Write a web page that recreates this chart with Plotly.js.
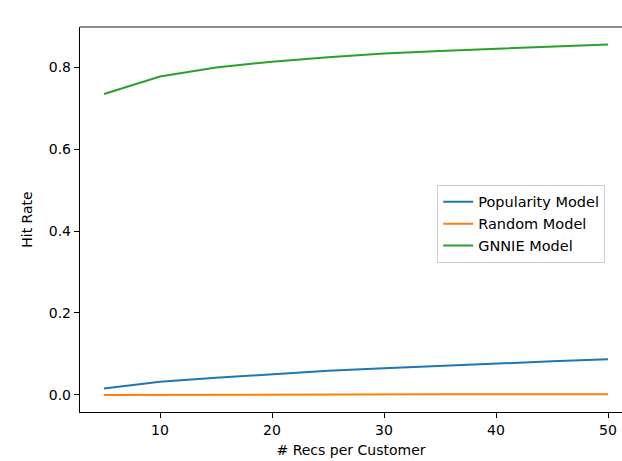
<!DOCTYPE html>
<html>
<head>
<meta charset="utf-8">
<script src="https://cdn.plot.ly/plotly-3.0.1.min.js"></script>
<style>html,body{margin:0;padding:0;background:#fff;}#chart{width:622px;height:461px;}</style>
</head>
<body>
<div id="chart"></div>
<script>
const recs = [5, 10, 15, 20, 25, 30, 35, 40, 45, 50];
const popularity = [0.016, 0.032, 0.042, 0.051, 0.059, 0.065, 0.071, 0.077, 0.082, 0.087];
const randomModel = [0.000, 0.0005, 0.001, 0.001, 0.0012, 0.0015, 0.0015, 0.0017, 0.0018, 0.002];
const gnnie = [0.734, 0.777, 0.799, 0.813, 0.824, 0.833, 0.839, 0.844, 0.850, 0.855];
const seriesNames = ["Popularity Model", "Random Model", "GNNIE Model"];
const colors = ["#1f77b4", "#ff7f0e", "#2ca02c"];
const xTicks = [10, 20, 30, 40, 50];
const yTicks = [0.0, 0.2, 0.4, 0.6, 0.8];

const font = {family: "DejaVu Sans", size: 14, color: "#000"};
const traces = [popularity, randomModel, gnnie].map((ys, i) => ({
  x: recs, y: ys, name: seriesNames[i], type: "scatter", mode: "lines",
  line: {color: colors[i], width: 2}
}));

const layout = {
  width: 622, height: 461,
  margin: {l: 80, r: 0, t: 27, b: 49},
  paper_bgcolor: "#fff", plot_bgcolor: "#fff",
  font: font,
  showlegend: true,
  xaxis: {
    range: [2.857, 51.25], tickvals: xTicks, ticktext: xTicks.map(String),
    showgrid: false, zeroline: false, showline: true, linecolor: "#000", linewidth: 1.2,
    ticks: "outside", ticklen: 5, tickcolor: "#000", tickfont: font,
    title: {text: "# Recs per Customer", font: font, standoff: 8}
  },
  yaxis: {
    range: [-0.0415, 0.8976], tickvals: yTicks, ticktext: yTicks.map(v => v.toFixed(1)),
    showgrid: false, zeroline: false, showline: true, linecolor: "#000", linewidth: 1.2,
    ticks: "outside", ticklen: 5, tickcolor: "#000", tickfont: font,
    title: {text: "Hit Rate", font: font, standoff: 12}
  },
  shapes: [{type: "line", xref: "paper", yref: "paper", x0: 0, x1: 1, y0: 1, y1: 1,
            line: {color: "#666", width: 1.5}}],
  legend: {
    x: 0.659, y: 0.59, xanchor: "left", yanchor: "top",
    bgcolor: "rgba(255,255,255,0.8)", bordercolor: "#ccc", borderwidth: 1,
    font: {family: "DejaVu Sans", size: 14.5, color: "#000"}, tracegroupgap: 0
  }
};

Plotly.newPlot("chart", traces, layout, {displayModeBar: false, staticPlot: true});
</script>
</body>
</html>
